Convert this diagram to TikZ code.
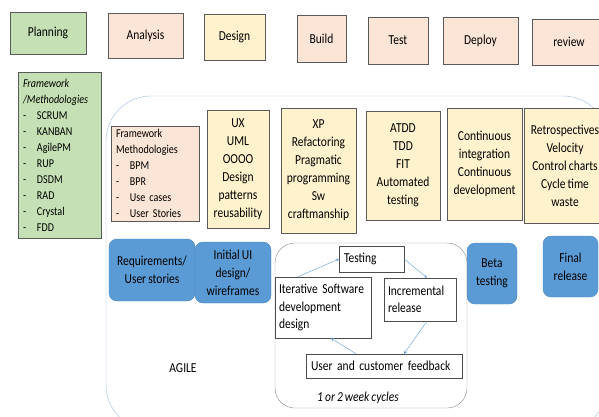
\documentclass[tikz,border=0pt]{standalone}
\usepackage{fontspec}
\setmainfont{Carlito}[FakeStretch=0.84,WordSpace=0.8]
\usetikzlibrary{calc}
\definecolor{planfill}{HTML}{C5E0B4}
\definecolor{peachfill}{HTML}{FBE5D6}
\definecolor{creamfill}{HTML}{FFF2CC}
\definecolor{bluefill}{HTML}{5B9BD5}
\definecolor{blueline}{HTML}{4A86C0}
\definecolor{agileline}{HTML}{9DBBDD}
\newcommand{\dashitem}[1]{\makebox[14pt][l]{-}#1}

\begin{document}
\begin{tikzpicture}[x=1pt,y=-1pt,
	size/.style 2 args={minimum width=#1,minimum height=#2},
	phase/.style={draw=black!65,font=\fontsize{13.7}{18}\selectfont,align=center,inner sep=2pt},
	listbox/.style={draw=black!65,font=\fontsize{12}{16}\selectfont,align=left,inner xsep=5pt,inner ysep=1pt},
	bluebox/.style={draw=blueline,fill=bluefill,rounded corners=8pt,font=\fontsize{13.7}{18}\selectfont,align=center,inner sep=2pt},
	cyclebox/.style={draw=black!70,fill=white,font=\fontsize{13.7}{17.5}\selectfont,align=left,inner xsep=5pt,inner ysep=2pt},
	flow/.style={->,>=stealth,draw=bluefill,thin}]
					%\draw[help lines] (0,0) grid[step=50] (599,417);
					\useasboundingbox (0,0) rectangle (599,417);
					\clip (0,0) rectangle (599,417);
					
					%AGILE FRAME
					\draw[agileline,rounded corners=45pt] (106,96) rectangle (608,430);
					\node[font=\fontsize{13.7}{16}\selectfont] (agile) at (183,368) {AGILE};
					
					%PHASES
					\node[phase,fill=planfill,size={76}{42}] (plan) at (48,33) {Planning};
					\node[phase,fill=peachfill,size={75}{45}] (analysis) at (145.5,35.5) {Analysis};
					\node[phase,fill=creamfill,size={61}{46}] (design) at (234.5,37) {Design};
					\node[phase,fill=peachfill,size={49}{47}] (build) at (321.5,38.5) {Build};
					\node[phase,fill=peachfill,size={60}{47}] (test) at (398,40.5) {Test};
					\node[phase,fill=peachfill,size={75}{47}] (deploy) at (480.5,40.5) {Deploy};
					\node[phase,fill=peachfill,size={74}{46}] (review) at (569,42) {review};
					
					%METHODOLOGIES
					\node[listbox,fill=planfill,text width=73pt,size={83}{166}] (methods) at (59.5,155)
						{\textit{Framework}\\\textit{/Methodologies}\\\dashitem{SCRUM}\\\dashitem{KANBAN}\\\dashitem{AgilePM}\\
						 \dashitem{RUP}\\\dashitem{DSDM}\\\dashitem{RAD}\\\dashitem{Crystal}\\\dashitem{FDD}};
					\node[listbox,fill=peachfill,text width=78pt,size={88}{95}] (reqmethods) at (155,173.5)
						{Framework\\Methodologies\\\dashitem{BPM}\\\dashitem{BPR}\\\dashitem{Use cases}\\\dashitem{User Stories}};
					
					%PRACTICES
					\node[phase,fill=creamfill,size={62}{118}] (ux) at (238,169) {UX\\UML\\OOOO\\Design\\patterns\\reusability};
					\node[phase,fill=creamfill,size={75}{125}] (xp) at (318.5,170.5) {XP\\Refactoring\\Pragmatic\\programming\\Sw\\craftmanship};
					\node[phase,fill=creamfill,size={74}{109}] (atdd) at (403,165.5) {ATDD\\TDD\\FIT\\Automated\\testing};
					\node[phase,fill=creamfill,size={75}{112}] (ci) at (484.5,164) {Continuous\\integration\\Continuous\\development};
					\node[phase,fill=creamfill,size={82}{115}] (retro) at (565,165.5) {Retrospectives\\Velocity\\Control charts\\Cycle time\\waste};
					
					%STAGES
					\node[bluebox,size={86}{62}] (req) at (152,270) {Requirements/\\User stories};
					\node[bluebox,size={76}{61}] (ui) at (233,272.5) {Initial UI\\design/\\wireframes};
					\node[bluebox,size={50}{61}] (beta) at (492,273.5) {Beta\\testing};
					\node[bluebox,size={55}{61}] (final) at (570.5,266.5) {Final\\release};
					
					%CYCLE
					\draw[black!45,rounded corners=20pt] (275,243) rectangle (467,408);
					\node[cyclebox,text width=55pt,size={65}{26}] (testing) at (371.5,259) {Testing};
					\node[cyclebox,text width=88pt,size={96}{61},inner xsep=4pt] (iter) at (323,307.5) {Iterative Software\\development\\design};
					\node[cyclebox,text width=64pt,size={72}{43},inner xsep=4pt] (incr) at (420,299.5) {Incremental\\release};
					\node[cyclebox,text width=146pt,size={156}{24}] (feed) at (384,366) {User and customer feedback};
					\node[font=\fontsize{13.7}{16}\selectfont\itshape] (weeks) at (358,398) {1 or 2 week cycles};
					
					\draw[flow] ([xshift=23pt]iter.north west) -- (testing.west);
					\draw[flow] (testing.east) -- ([xshift=7pt]incr.north);
					\draw[flow] ([xshift=7pt]incr.south) -- ([xshift=20pt]feed.north);
					\draw[flow] ([xshift=-28pt]feed.north) -- ([xshift=8pt]iter.south);
				  \end{tikzpicture}
\end{document}
